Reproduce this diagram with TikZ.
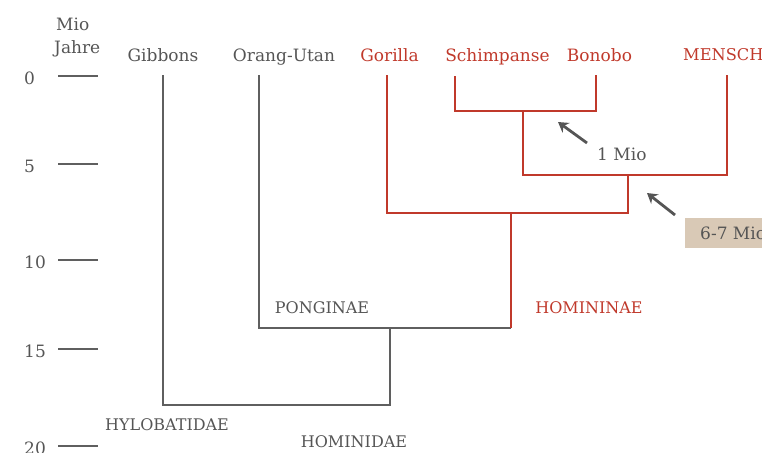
\documentclass[tikz,border=0pt]{standalone}
\usepackage{fontspec}
\setmainfont{DejaVu Serif}
\usetikzlibrary{arrows.meta}
\definecolor{tred}{RGB}{192,57,43}
\definecolor{tgray}{RGB}{85,85,85}
\definecolor{lgray}{RGB}{95,95,95}
\definecolor{beige}{RGB}{217,201,182}
\begin{document}
\begin{tikzpicture}[x=1pt,y=-1pt,
  lbl/.style={font=\fontsize{17}{20}\selectfont, text=tgray, inner sep=0pt, anchor=base},
  grp/.style={font=\fontsize{16}{19}\selectfont, text=tgray, inner sep=0pt, anchor=base},
  red/.style={text=tred},
  gline/.style={draw=lgray, line width=1.2pt},
  rline/.style={draw=tred, line width=1.2pt},
  tick/.style={draw=lgray, line width=1.2pt},
  arr/.style={draw=tgray, line width=2.8pt, -{Stealth[length=10pt,width=12pt]}}]
\useasboundingbox (0,0) rectangle (762,452);
% axis
\node[lbl, anchor=base west] (mio) at (56,31) {Mio};
\node[lbl, anchor=base west] (jahre) at (54,54) {Jahre};
\foreach \v/\y in {0/76,5/164,10/260,15/349,20/446}{
  \node[lbl, anchor=base west] (t\v) at (24,\y+8) {\v};
  \coordinate (ta\v) at (58,\y);
  \coordinate (tb\v) at (98,\y);
  \draw[tick] (ta\v) -- (tb\v);
}
% species
\node[lbl] (gib) at (163,61) {Gibbons};
\node[lbl] (ora) at (284,61) {Orang-Utan};
\node[lbl,red] (gor) at (389.5,61) {Gorilla};
\node[lbl,red] (sch) at (497.5,61) {Schimpanse};
\node[lbl,red] (bon) at (599.5,61) {Bonobo};
\node[lbl,red,anchor=base west,font=\fontsize{16.2}{19}\selectfont] (men) at (683,60) {MENSCH};
% tree coordinates
\coordinate (gibT) at (163,75);
\coordinate (gibB) at (163,405);
\coordinate (homB) at (390,405);
\coordinate (homT) at (390,328);
\coordinate (oraT) at (259,75);
\coordinate (oraB) at (259,328);
\coordinate (hmnB) at (511,328);
\coordinate (hmnT) at (511,213);
\coordinate (gorT) at (387,75);
\coordinate (gorB) at (387,213);
\coordinate (hpB) at (628,213);
\coordinate (hpT) at (628,175);
\coordinate (schT) at (455,76);
\coordinate (schB) at (455,111);
\coordinate (bonT) at (596,75);
\coordinate (bonB) at (596,111);
\coordinate (panT) at (523,111);
\coordinate (panB) at (523,175);
\coordinate (menT) at (727,75);
\coordinate (menB) at (727,175);
% gray part
\draw[gline] (gibT) -- (gibB) -- (homB) -- (homT);
\draw[gline] (oraT) -- (oraB) -- (hmnB);
% red part
\draw[rline] (hmnB) -- (hmnT);
\draw[rline] (gorT) -- (gorB) -- (hpB) -- (hpT);
\draw[rline] (schT) -- (schB) -- (bonB) -- (bonT);
\draw[rline] (panT) -- (panB) -- (menB) -- (menT);
% group labels
\node[grp] (pong) at (322,313) {PONGINAE};
\node[grp,red] (hmn) at (589,313) {HOMININAE};
\node[grp] (hylo) at (167,430) {HYLOBATIDAE};
\node[grp] (homd) at (354,447) {HOMINIDAE};
% annotations
\node[lbl, anchor=base west] (m1) at (597,160) {1 Mio};
\coordinate (a1s) at (587,143);
\coordinate (a1e) at (558,122);
\draw[arr] (a1s) -- (a1e);
\node[fill=beige, anchor=west, minimum height=30pt, inner xsep=15pt, inner ysep=0pt,
  font=\fontsize{17}{20}\selectfont, text=tgray] (m67) at (685,233) {6-7 Mio};
\coordinate (a2s) at (675,215);
\coordinate (a2e) at (647,193);
\draw[arr] (a2s) -- (a2e);
\end{tikzpicture}
\end{document}
